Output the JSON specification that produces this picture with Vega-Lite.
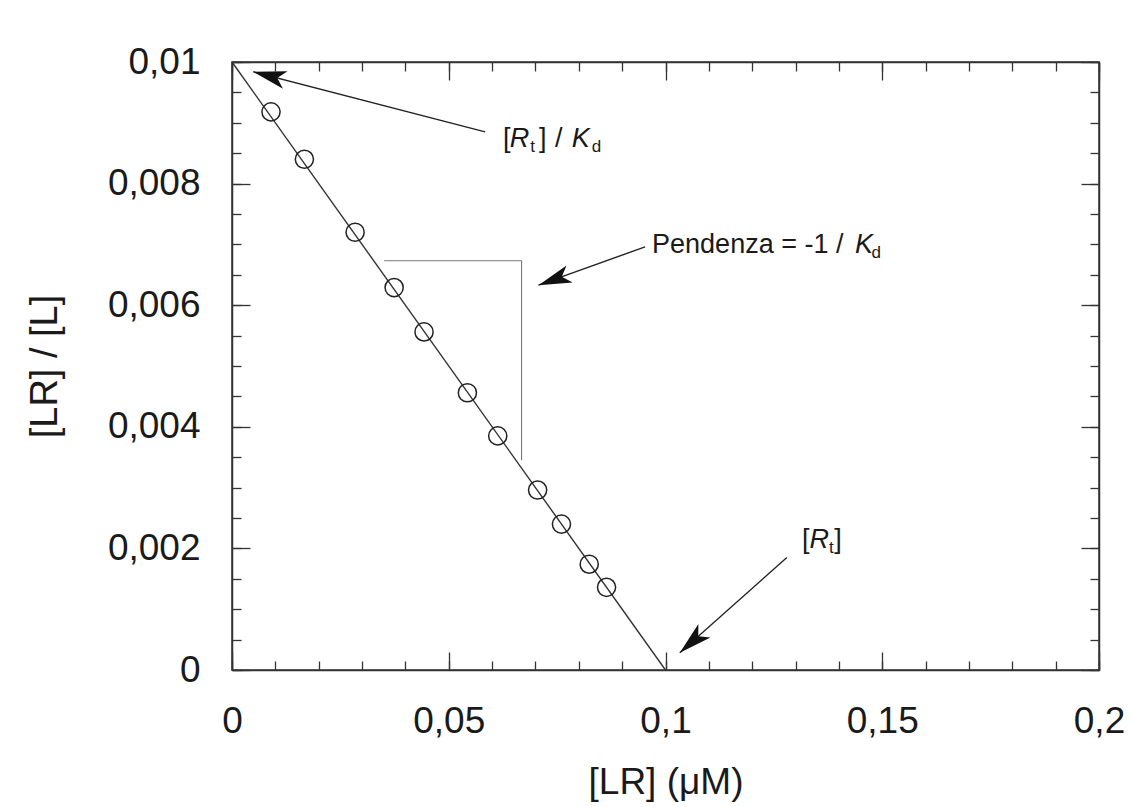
{
  "$schema": "https://vega.github.io/schema/vega-lite/v6.json",
  "width": 867,
  "height": 608,
  "autosize": {"type": "none"},
  "padding": {"left": 232, "top": 62, "right": 35, "bottom": 137},
  "background": "white",
  "config": {"view": {"stroke": "#333333", "strokeWidth": 1.5}, "font": "Liberation Sans"},
  "datasets": {
    "fit": [{"x": 0, "y": 0.01}, {"x": 0.1, "y": 0}],
    "points": [
      {"x": 0.0090, "y": 0.00918},
      {"x": 0.0167, "y": 0.0084},
      {"x": 0.0284, "y": 0.0072},
      {"x": 0.0374, "y": 0.00629},
      {"x": 0.0443, "y": 0.00556},
      {"x": 0.0543, "y": 0.00456},
      {"x": 0.0613, "y": 0.00385},
      {"x": 0.0705, "y": 0.00296},
      {"x": 0.0760, "y": 0.0024},
      {"x": 0.0824, "y": 0.00174},
      {"x": 0.0864, "y": 0.00136}
    ],
    "slope": [
      {"x": 0.0351, "y": 0.00673, "x2": 0.0668, "y2": 0.00673},
      {"x": 0.0668, "y": 0.00673, "x2": 0.0668, "y2": 0.00345}
    ],
    "arrows": [
      {"id": "a1", "x": 0.0584, "y": 0.00885, "x2": 0.00491, "y2": 0.00984},
      {"id": "a2", "x": 0.0953, "y": 0.00696, "x2": 0.0707, "y2": 0.00633},
      {"id": "a3", "x": 0.1280, "y": 0.00185, "x2": 0.1033, "y2": 0.000285}
    ],
    "textNormal": [
      {"x": 0.0625, "y": 0.0086, "text": "["},
      {"x": 0.0708, "y": 0.0086, "text": "]"},
      {"x": 0.0745, "y": 0.0086, "text": "/"},
      {"x": 0.0969, "y": 0.00686, "text": "Pendenza = -1 /"},
      {"x": 0.1315, "y": 0.00201, "text": "["},
      {"x": 0.1389, "y": 0.00201, "text": "]"}
    ],
    "textItalic": [
      {"x": 0.0641, "y": 0.0086, "text": "R"},
      {"x": 0.0784, "y": 0.0086, "text": "K"},
      {"x": 0.1437, "y": 0.00686, "text": "K"},
      {"x": 0.1332, "y": 0.00201, "text": "R"}
    ],
    "textSub": [
      {"x": 0.0688, "y": 0.00852, "text": "t"},
      {"x": 0.0830, "y": 0.00852, "text": "d"},
      {"x": 0.1475, "y": 0.00678, "text": "d"},
      {"x": 0.1377, "y": 0.00192, "text": "t"}
    ]
  },
  "layer": [
    {
      "data": {"name": "fit"},
      "mark": {"type": "line", "color": "#333333", "strokeWidth": 1.4},
      "encoding": {
        "x": {
          "field": "x", "type": "quantitative",
          "scale": {"domain": [0, 0.2], "nice": false, "zero": false},
          "axis": {
            "orient": "bottom",
            "title": "[LR] (μM)",
            "values": [0, 0.05, 0.1, 0.15, 0.2],
            "labelExpr": "replace(toString(datum.value),'.',',')",
            "tickSize": -18,
            "tickColor": "#333333", "tickWidth": 1.3,
            "domainColor": "#333333", "domainWidth": 1.5,
            "grid": false,
            "labelFont": "Liberation Sans", "labelFontSize": 37, "labelColor": "#1a1a1a",
            "labelPadding": 51, "labelFlush": false, "labelOverlap": false, "labelBaseline": "top",
            "titleFont": "Liberation Sans", "titleFontSize": 37, "titleFontWeight": "normal", "titleColor": "#1a1a1a",
            "titlePadding": 25
          }
        },
        "y": {
          "field": "y", "type": "quantitative",
          "scale": {"domain": [0, 0.01], "nice": false, "zero": false},
          "axis": {
            "orient": "left",
            "title": "[LR] / [L]",
            "values": [0, 0.002, 0.004, 0.006, 0.008, 0.01],
            "labelExpr": "replace(toString(datum.value),'.',',')",
            "tickSize": -18,
            "tickColor": "#333333", "tickWidth": 1.3,
            "domainColor": "#333333", "domainWidth": 1.5,
            "grid": false,
            "labelFont": "Liberation Sans", "labelFontSize": 37, "labelColor": "#1a1a1a",
            "labelPadding": 50, "labelFlush": false, "labelOverlap": false,
            "titleFont": "Liberation Sans", "titleFontSize": 38, "titleFontWeight": "normal", "titleColor": "#1a1a1a",
            "titlePadding": 43
          }
        }
      }
    },
    {
      "data": {"name": "points"},
      "mark": {"type": "point", "shape": "circle", "filled": false, "size": 330, "stroke": "#222222", "strokeWidth": 1.5, "opacity": 1},
      "encoding": {
        "x": {
          "field": "x", "type": "quantitative",
          "axis": {
            "orient": "top", "title": null, "labels": false, "grid": false,
            "values": [0, 0.05, 0.1, 0.15, 0.2],
            "tickSize": -18,
            "tickColor": "#333333", "tickWidth": 1.3, "domainColor": "#333333", "domainWidth": 1.5
          }
        },
        "y": {
          "field": "y", "type": "quantitative",
          "axis": {
            "orient": "right", "title": null, "labels": false, "grid": false,
            "values": [0, 0.002, 0.004, 0.006, 0.008, 0.01],
            "tickSize": -18,
            "tickColor": "#333333", "tickWidth": 1.3, "domainColor": "#333333", "domainWidth": 1.5
          }
        }
      }
    },
    {
      "data": {"name": "slope"},
      "mark": {"type": "rule", "color": "#777777", "strokeWidth": 1.1},
      "encoding": {
        "x": {
          "field": "x", "type": "quantitative",
          "axis": {
            "orient": "bottom", "title": null, "labels": false, "grid": false, "domain": false,
            "values": [0, 0.01, 0.02, 0.03, 0.04, 0.05, 0.06, 0.07, 0.08, 0.09, 0.1, 0.11, 0.12, 0.13, 0.14, 0.15, 0.16, 0.17, 0.18, 0.19, 0.2],
            "tickSize": -9, "tickColor": "#333333", "tickWidth": 1.3
          }
        },
        "y": {
          "field": "y", "type": "quantitative",
          "axis": {
            "orient": "left", "title": null, "labels": false, "grid": false, "domain": false,
            "values": [0, 0.0005, 0.001, 0.0015, 0.002, 0.0025, 0.003, 0.0035, 0.004, 0.0045, 0.005, 0.0055, 0.006, 0.0065, 0.007, 0.0075, 0.008, 0.0085, 0.009, 0.0095, 0.01],
            "tickSize": -9, "tickColor": "#333333", "tickWidth": 1.3
          }
        },
        "x2": {"field": "x2"},
        "y2": {"field": "y2"}
      }
    },
    {
      "data": {"name": "arrows"},
      "mark": {"type": "rule", "color": "#222222", "strokeWidth": 1.4},
      "encoding": {
        "x": {
          "field": "x", "type": "quantitative",
          "axis": {
            "orient": "top", "title": null, "labels": false, "grid": false, "domain": false,
            "values": [0, 0.01, 0.02, 0.03, 0.04, 0.05, 0.06, 0.07, 0.08, 0.09, 0.1, 0.11, 0.12, 0.13, 0.14, 0.15, 0.16, 0.17, 0.18, 0.19, 0.2],
            "tickSize": -9, "tickColor": "#333333", "tickWidth": 1.3
          }
        },
        "y": {
          "field": "y", "type": "quantitative",
          "axis": {
            "orient": "right", "title": null, "labels": false, "grid": false, "domain": false,
            "values": [0, 0.0005, 0.001, 0.0015, 0.002, 0.0025, 0.003, 0.0035, 0.004, 0.0045, 0.005, 0.0055, 0.006, 0.0065, 0.007, 0.0075, 0.008, 0.0085, 0.009, 0.0095, 0.01],
            "tickSize": -9, "tickColor": "#333333", "tickWidth": 1.3
          }
        },
        "x2": {"field": "x2"},
        "y2": {"field": "y2"}
      }
    },
    {
      "data": {"name": "arrows"},
      "transform": [{"filter": "datum.id == 'a1'"}],
      "mark": {"type": "point", "shape": "M0,0 L-2,-0.55 L-1.5,0 L-2,0.55 Z", "filled": true, "color": "#111111", "opacity": 1, "size": 1089, "angle": 194.5},
      "encoding": {
        "x": {"field": "x2", "type": "quantitative", "axis": null},
        "y": {"field": "y2", "type": "quantitative", "axis": null}
      }
    },
    {
      "data": {"name": "arrows"},
      "transform": [{"filter": "datum.id == 'a2'"}],
      "mark": {"type": "point", "shape": "M0,0 L-2,-0.55 L-1.5,0 L-2,0.55 Z", "filled": true, "color": "#111111", "opacity": 1, "size": 1089, "angle": 160.3},
      "encoding": {
        "x": {"field": "x2", "type": "quantitative", "axis": null},
        "y": {"field": "y2", "type": "quantitative", "axis": null}
      }
    },
    {
      "data": {"name": "arrows"},
      "transform": [{"filter": "datum.id == 'a3'"}],
      "mark": {"type": "point", "shape": "M0,0 L-2,-0.55 L-1.5,0 L-2,0.55 Z", "filled": true, "color": "#111111", "opacity": 1, "size": 1089, "angle": 138.2},
      "encoding": {
        "x": {"field": "x2", "type": "quantitative", "axis": null},
        "y": {"field": "y2", "type": "quantitative", "axis": null}
      }
    },
    {
      "data": {"name": "textNormal"},
      "mark": {"type": "text", "align": "left", "baseline": "alphabetic", "font": "Liberation Sans", "fontSize": 27, "color": "#1a1a1a"},
      "encoding": {
        "x": {"field": "x", "type": "quantitative", "axis": null},
        "y": {"field": "y", "type": "quantitative", "axis": null},
        "text": {"field": "text"}
      }
    },
    {
      "data": {"name": "textItalic"},
      "mark": {"type": "text", "align": "left", "baseline": "alphabetic", "font": "Liberation Sans", "fontStyle": "italic", "fontSize": 27, "color": "#1a1a1a"},
      "encoding": {
        "x": {"field": "x", "type": "quantitative", "axis": null},
        "y": {"field": "y", "type": "quantitative", "axis": null},
        "text": {"field": "text"}
      }
    },
    {
      "data": {"name": "textSub"},
      "mark": {"type": "text", "align": "left", "baseline": "alphabetic", "font": "Liberation Sans", "fontSize": 17, "color": "#1a1a1a"},
      "encoding": {
        "x": {"field": "x", "type": "quantitative", "axis": null},
        "y": {"field": "y", "type": "quantitative", "axis": null},
        "text": {"field": "text"}
      }
    }
  ],
  "resolve": {"axis": {"x": "independent", "y": "independent"}}
}
